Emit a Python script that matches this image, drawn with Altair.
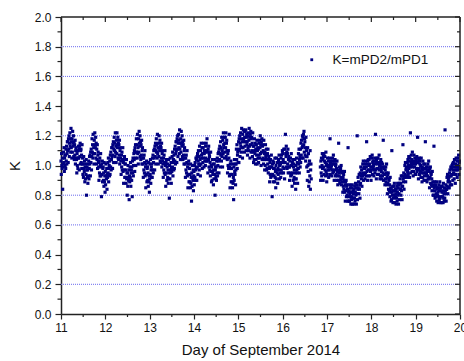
import altair as alt
import pandas as pd

SERIES = "K=mPD2/mPD1"
X_TITLE = "Day of September 2014"
Y_TITLE = "K"

# K values (x100), one sub-list per 0.05-day step, 20 steps per day
DAY_11 = [
    [103,94,108,100,98,105,84,101],[99,109,102,112,96,105,107,100],[107,98,111,103,113,101,108,116],
    [110,116,102,118,111,120,106,115],[122,113,118,109,125,112,116,105],[118,109,123,115,113,120,106,116],
    [104,114,107,117,101,110,112,105],[104,95,108,100,110,98,105,113],[105,111,97,113,106,115,101,110],
    [111,102,107,98,114,101,105,94],[101,92,106,98,96,103,89,99],[91,101,94,104,80,97,99,92],
    [97,88,101,93,103,91,98,106],[101,107,93,109,102,111,97,106],[118,109,114,105,121,108,112,101],
    [117,108,122,114,112,119,105,115],[101,111,104,114,98,107,109,102],[99,90,103,95,105,93,100,108],
    [93,99,79,101,94,103,89,98],[99,90,95,86,102,89,93,82],
]
DAY_12 = [
    [96,87,101,93,91,98,84,94],[92,102,95,105,89,98,100,93],[103,94,107,99,109,97,104,112],
    [106,112,98,114,107,116,102,111],[119,110,115,106,122,109,113,102],[117,108,122,114,112,119,105,115],
    [104,114,107,117,101,110,112,105],[103,94,107,99,109,97,104,112],[96,102,88,104,97,106,92,101],
    [101,92,97,88,104,91,95,80],[95,86,100,92,90,97,77,93],[89,99,92,102,86,95,97,90],
    [99,79,103,95,105,93,100,108],[104,110,96,112,105,114,100,109],[118,109,114,105,121,108,112,101],
    [118,109,123,115,113,120,106,116],[104,114,107,117,101,110,112,105],[101,92,105,97,107,95,102,110],
    [93,99,85,101,94,103,89,98],[99,90,95,86,102,89,93,82],
]
DAY_13 = [
    [91,101,94,104,88,97,99,92],[101,92,105,97,107,95,102,110],[105,111,97,113,106,115,101,110],
    [118,109,114,105,121,108,112,101],[115,106,120,112,110,117,103,113],[102,112,105,115,99,108,110,103],
    [101,92,105,97,107,95,102,110],[94,100,86,102,95,104,90,99],[101,92,97,88,104,91,95,78],
    [100,91,105,97,95,102,88,98],[96,106,99,109,93,102,104,97],[107,98,111,103,113,101,108,116],
    [110,116,102,118,111,120,106,115],[121,112,117,108,124,111,115,104],[118,109,123,115,113,120,106,116],
    [104,114,107,117,101,110,112,105],[101,92,105,97,107,95,102,110],[93,99,85,101,94,103,89,98],
    [98,89,94,85,101,88,92,76],[95,86,100,92,90,97,83,93],
]
DAY_14 = [
    [96,87,100,92,102,90,97,105],[98,104,90,106,99,108,94,103],[110,101,106,97,113,100,104,93],
    [110,101,115,107,105,112,98,108],[102,112,105,115,99,108,110,103],[109,100,113,105,115,103,110,118],
    [103,109,95,111,104,113,99,108],[106,97,102,93,109,96,100,89],[99,90,104,96,94,101,87,97],
    [91,101,94,104,80,97,99,92],[99,90,103,95,105,93,100,108],[103,109,95,111,104,113,99,108],
    [116,107,112,103,119,106,110,99],[117,108,122,114,112,119,105,115],[109,119,112,122,106,115,117,110],
    [104,95,108,100,110,98,105,121],[93,99,85,101,94,103,89,98],[98,89,94,85,101,88,92,77],
    [99,90,104,96,94,101,87,97],[101,111,104,114,98,107,109,102],
]
DAY_15 = [
    [110,116,102,118,111,120,106,115],[122,113,118,109,125,112,116,105],[121,112,124,118,116,123,109,119],
    [113,123,116,124,110,119,121,114],[116,107,120,112,122,110,117,125],[113,119,105,121,114,123,109,118],
    [119,110,115,106,122,109,113,102],[113,104,118,110,108,115,101,111],[104,114,107,117,101,110,112,105],
    [111,102,115,107,117,105,112,120],[108,114,100,116,109,118,104,113],[114,105,110,101,117,104,108,97],
    [109,100,114,106,104,111,97,107],[98,108,101,111,95,104,106,99],[98,89,102,94,104,92,99,107],
    [93,99,79,101,94,103,89,98],[102,93,98,89,105,92,96,85],[100,91,105,97,95,102,88,98],
    [94,104,97,107,91,100,102,95],[101,92,105,97,107,95,102,110],
]
DAY_16 = [
    [108,99,104,95,111,98,102,91],[111,102,121,108,106,113,99,109],[98,108,101,111,95,104,106,99],
    [99,90,103,95,105,93,100,108],[94,100,86,102,95,104,90,99],[101,92,97,88,104,91,95,84],
    [100,91,105,97,95,102,88,98],[98,108,101,111,95,104,106,99],[111,102,115,107,117,105,112,120],
    [113,119,105,121,114,123,109,118],[116,107,112,103,119,106,110,99],[106,90,112,100,96,108,86,101],
    [89,103,93,110,84,97,101,91],[],[],[],[],
    [99,90,103,95,105,93,100,108],[98,104,90,106,99,108,94,103],[106,97,102,93,109,96,100,89],
]
DAY_17 = [
    [101,94,105,99,97,103,92,100],[97,105,99,118,94,102,103,98],[100,93,103,97,105,95,101,107],
    [96,101,90,103,97,104,93,100],[101,94,98,90,103,93,96,87],[97,90,115,95,93,99,88,96],
    [90,98,92,100,87,95,96,91],[89,82,92,86,94,84,90,96],[82,87,76,89,83,90,79,86],
    [87,80,84,76,112,79,82,76],[83,76,87,81,79,85,74,82],[77,85,79,87,74,82,83,78],
    [81,74,84,78,86,76,82,88],[80,85,74,87,81,120,77,84],[92,85,89,81,94,84,87,78],
    [95,88,99,93,91,97,86,94],[93,101,95,103,90,98,99,94],[98,91,101,95,103,93,99,116],
    [96,101,90,103,97,104,93,100],[104,97,101,93,106,96,99,90],
]
DAY_18 = [
    [97,105,99,107,94,102,103,98],[100,93,103,97,105,95,101,121],[97,102,91,104,98,105,94,101],
    [105,98,102,94,107,97,100,91],[100,93,104,98,96,102,91,99],[93,101,95,117,90,98,99,94],
    [94,87,97,91,99,89,95,101],[87,92,81,94,88,95,84,91],[90,83,87,79,92,82,85,76],
    [84,77,110,82,80,86,75,83],[78,86,80,88,75,83,84,79],[81,74,84,78,86,76,82,88],
    [80,85,74,87,81,88,77,84],[91,84,88,80,93,83,86,77],[93,86,114,91,89,95,84,92],
    [92,100,94,102,89,97,98,93],[99,92,102,96,104,94,100,106],[98,103,92,105,99,122,95,102],
    [107,100,104,96,109,99,102,93],[103,96,107,101,99,105,94,102],
]
DAY_19 = [
    [101,94,104,98,106,96,102,119],[97,102,91,104,98,105,94,101],[103,96,100,92,105,95,98,89],
    [99,92,103,97,95,101,90,98],[93,101,95,116,90,98,99,94],[96,89,99,93,101,91,97,103],
    [91,96,85,98,92,99,88,95],[94,87,91,83,96,86,89,80],[87,80,113,85,83,89,78,86],
    [79,87,81,89,76,84,85,80],[82,75,85,79,87,77,83,89],[78,83,75,85,79,86,75,82],
    [86,79,83,75,88,78,81,76],[85,78,124,83,81,87,76,84],[84,92,86,94,81,89,90,85],
    [92,85,95,89,97,87,93,99],[93,98,87,100,94,101,90,97],[102,95,99,91,104,94,97,88],
    [101,94,105,99,97,103,92,100],[97,105,99,107,94,102,103,98],
]

DAYS = [11, 12, 13, 14, 15, 16, 17, 18, 19]
ALL_DAYS = [DAY_11, DAY_12, DAY_13, DAY_14, DAY_15, DAY_16, DAY_17, DAY_18, DAY_19]
STEP = 0.05

GRID_K = [0.2, 0.6, 0.8, 1.2, 1.6, 1.8]
X_MAJOR = [11, 12, 13, 14, 15, 16, 17, 18, 19, 20]
X_MINOR = [11.5, 12.5, 13.5, 14.5, 15.5, 16.5, 17.5, 18.5, 19.5]
Y_MAJOR = [0.0, 0.2, 0.4, 0.6, 0.8, 1.0, 1.2, 1.4, 1.6, 1.8, 2.0]
Y_MINOR = [0.1, 0.3, 0.5, 0.7, 0.9, 1.1, 1.3, 1.5, 1.7, 1.9]

rows = []
for day, steps in zip(DAYS, ALL_DAYS):
    for s, grp in enumerate(steps):
        n = len(grp)
        for j, v in enumerate(grp):
            rows.append({"day": day + s * STEP + j * STEP / n, "K": v / 100.0, "series": SERIES})
df = pd.DataFrame(rows)

W, H = 399, 297
FONT = "Liberation Sans"
AXC = "#222222"

xs = alt.Scale(domain=[11, 20], nice=False, zero=False)
ys = alt.Scale(domain=[0, 2], nice=False, zero=False)

X_AXIS = alt.Axis(
    orient="bottom", values=X_MAJOR, format="d", title=X_TITLE,
    tickSize=5, tickWidth=1.2, tickColor=AXC, domainColor=AXC, domainWidth=1.5,
    labelFont=FONT, labelFontSize=12, labelColor="#111", labelPadding=3,
    labelOverlap=False, labelFlush=False,
    titleFont=FONT, titleFontSize=15, titleFontWeight="normal", titleColor="#111",
    titlePadding=9, grid=False, gridOpacity=0)
Y_AXIS = alt.Axis(
    orient="left", values=Y_MAJOR, format=".1f", title=Y_TITLE,
    tickSize=6, tickWidth=1.2, tickColor=AXC, domainColor=AXC, domainWidth=1.5,
    labelFont=FONT, labelFontSize=12, labelColor="#111", labelPadding=4,
    labelOverlap=False, labelFlush=False,
    titleFont=FONT, titleFontSize=15, titleFontWeight="normal", titleColor="#111",
    titlePadding=12, grid=False, gridOpacity=0)

def X(field):
    return alt.X(field, scale=xs, axis=X_AXIS)

def Y(field):
    return alt.Y(field, scale=ys, axis=Y_AXIS)

xmaj = pd.DataFrame({"v": X_MAJOR})
xmin = pd.DataFrame({"v": X_MINOR})
ymaj = pd.DataFrame({"v": Y_MAJOR})
ymin = pd.DataFrame({"v": Y_MINOR})

grid = alt.Chart(pd.DataFrame({"v": GRID_K})).mark_rule(
    color="#6a6aee", strokeDash=[1, 1], strokeWidth=1
).encode(y=Y("v:Q"))

points = alt.Chart(df).mark_square(size=10, opacity=1).encode(
    x=X("day:Q"),
    y=Y("K:Q"),
    color=alt.Color("series:N", scale=alt.Scale(range=["#000080"]), legend=alt.Legend(
        title=None, orient="none", legendX=244, legendY=36, padding=0,
        symbolType="square", symbolSize=8, symbolStrokeWidth=0,
        labelFont=FONT, labelFontSize=13.5, labelColor="#111", labelOffset=14)),
)

def rule(data, sw=1.2):
    return alt.Chart(data).mark_rule(color=AXC, strokeWidth=sw)

# minor / mirror ticks and frame
bottom_minor = rule(xmin).encode(x=X("v:Q"), y=alt.value(H), y2=alt.value(H + 3))
top_major = rule(xmaj).encode(x=X("v:Q"), y=alt.value(0), y2=alt.value(5))
top_minor = rule(xmin).encode(x=X("v:Q"), y=alt.value(0), y2=alt.value(3))
left_minor = rule(ymin).encode(y=Y("v:Q"), x=alt.value(-3.5), x2=alt.value(0))
right_major = rule(ymaj).encode(y=Y("v:Q"), x=alt.value(W - 5), x2=alt.value(W))
right_minor = rule(ymin).encode(y=Y("v:Q"), x=alt.value(W - 3), x2=alt.value(W))
frame_top = rule(xmaj.head(1), 1.5).encode(x=alt.value(0), x2=alt.value(W), y=alt.value(0))
frame_right = rule(xmaj.head(1), 1.5).encode(x=alt.value(W), y=alt.value(0), y2=alt.value(H))

chart = alt.layer(
    grid, points, bottom_minor, top_major, top_minor, left_minor,
    right_major, right_minor, frame_top, frame_right
).properties(
    width=W, height=H,
    autosize=alt.AutoSizeParams(type="none"),
    padding={"left": 61, "top": 17, "right": 4, "bottom": 47},
    background="white",
).configure_view(stroke=None).configure_axis(grid=False)

chart.save("out.html", embed_options={"renderer": "svg", "actions": False})
